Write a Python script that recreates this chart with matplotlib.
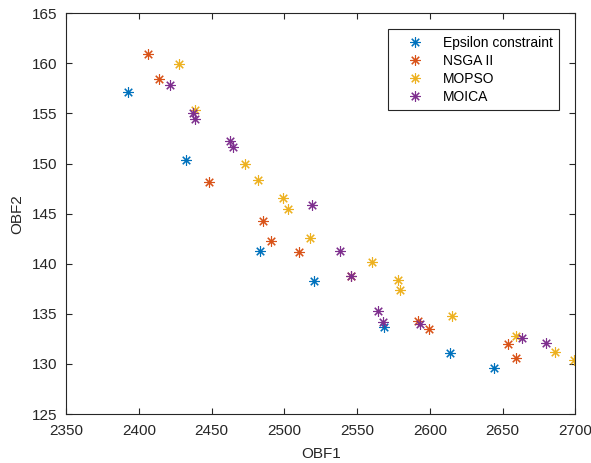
import matplotlib
matplotlib.use("Agg")
import matplotlib.pyplot as plt

plt.rcParams['font.family'] = ['Liberation Sans', 'DejaVu Sans']

eps_x = [2392.3, 2432.4, 2483.4, 2520.5, 2568.7, 2614.2, 2644.4]
eps_y = [157.1, 150.4, 141.3, 138.3, 133.7, 131.1, 129.6]

nsga_x = [2406.5, 2414.1, 2448.3, 2485.2, 2491.2, 2510.4, 2546.0, 2591.9, 2599.8, 2653.6, 2659.5]
nsga_y = [160.9, 158.4, 148.2, 144.3, 142.3, 141.2, 138.8, 134.3, 133.5, 132.0, 130.6]

mopso_x = [2427.8, 2438.5, 2473.3, 2481.8, 2499.2, 2502.6, 2517.9, 2560.0, 2577.9, 2579.5,
           2615.6, 2659.3, 2686.3, 2699.0]
mopso_y = [159.9, 155.3, 150.0, 148.4, 146.6, 145.5, 142.6, 140.2, 138.4, 137.4,
           134.8, 132.8, 131.2, 130.4]

moica_x = [2421.7, 2437.2, 2438.8, 2462.4, 2465.1, 2519.1, 2538.3, 2545.9, 2564.4, 2568.0,
           2593.0, 2663.7, 2680.1]
moica_y = [157.8, 155.0, 154.4, 152.3, 151.7, 145.9, 141.3, 138.8, 135.3, 134.2,
           134.0, 132.6, 132.1]

labels = ['Epsilon constraint', 'NSGA II', 'MOPSO', 'MOICA']
colors = ['#0072BD', '#D95319', '#EDB120', '#7E2F8E']
xticks = [2350, 2400, 2450, 2500, 2550, 2600, 2650, 2700]
yticks = [125, 130, 135, 140, 145, 150, 155, 160, 165]

fig = plt.figure(figsize=(5.91, 4.63), dpi=100)
ax = fig.add_axes([66 / 591, (463 - 414) / 463, (575.3 - 66) / 591, 400.7 / 463])

series = [(eps_x, eps_y), (nsga_x, nsga_y), (mopso_x, mopso_y), (moica_x, moica_y)]
for (xs, ys), lab, c in zip(series, labels, colors):
    ax.plot(xs, ys, linestyle='none', marker=(8, 2, 0), markersize=7.5,
            markeredgewidth=0.8, color=c, label=lab)

ax.set_xlim(2350, 2700)
ax.set_ylim(125, 165)
ax.set_xticks(xticks)
ax.set_yticks(yticks)
ax.tick_params(direction='in', top=True, right=True, length=4, width=0.8,
               labelsize=11, colors='#262626')
ax.tick_params(axis='x', pad=7)
ax.tick_params(axis='y', pad=6)
for s in ax.spines.values():
    s.set_color('#262626')
    s.set_linewidth(0.8)
ax.set_xlabel('OBF1', fontsize=11, color='#262626', labelpad=7)
ax.set_ylabel('OBF2', fontsize=11, color='#262626', labelpad=6)

leg = ax.legend(loc='upper right', bbox_to_anchor=(0.9686, 0.96), fontsize=10,
                fancybox=False, framealpha=1, edgecolor='#262626',
                handlelength=2.9, handletextpad=0.6, borderpad=0.45,
                labelspacing=0.3, borderaxespad=0)
leg.get_frame().set_linewidth(0.8)

fig.savefig('out.png', dpi=100)
